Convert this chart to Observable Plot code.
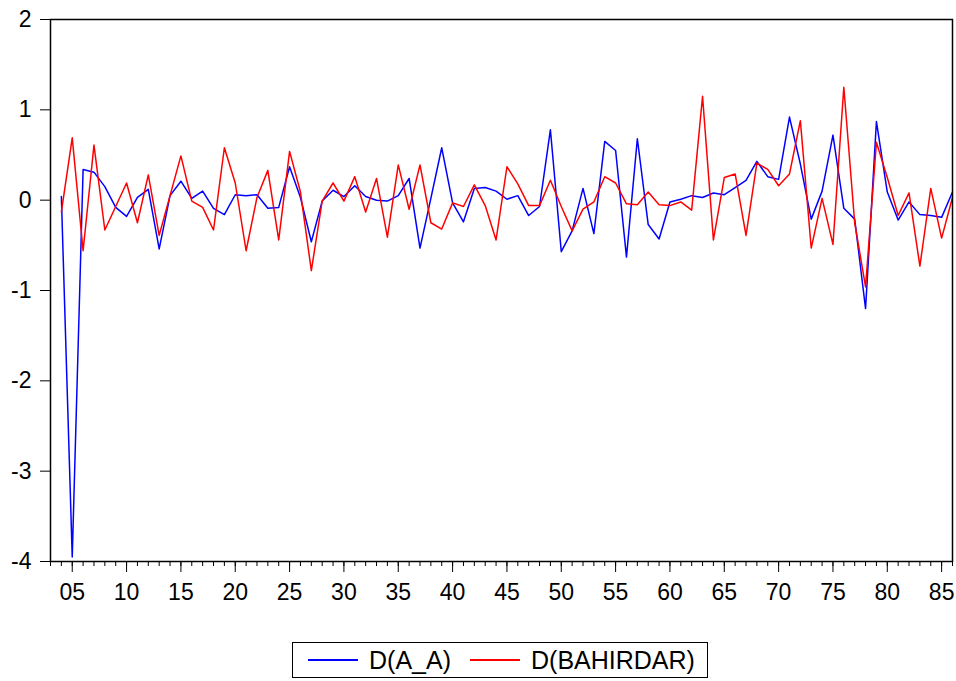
<!DOCTYPE html>
<html>
<head>
<meta charset="utf-8">
<script src="https://cdn.jsdelivr.net/npm/d3@7"></script>
<script src="https://cdn.jsdelivr.net/npm/@observablehq/plot@0.6"></script>
<style>
  body { margin: 0; background: white; font-family: "Liberation Sans", Arial, sans-serif; }
  #wrap { position: relative; width: 956px; height: 681px; }
  #legend { position: absolute; left: 292px; top: 642px; width: 416px; height: 36px; border: 1px solid black; box-sizing: border-box; }
  .item { position: absolute; top: 0; height: 34px; display: flex; align-items: center; font-size: 25px; color: black; white-space: nowrap; }
  .sw { display: inline-block; width: 50px; height: 2px; margin-right: 11px; }
</style>
</head>
<body>
<div id="wrap">
  <div id="chart"></div>
  <div id="legend"></div>
</div>
<script>
const periods = d3.range(4, 87);
const seriesNames = ["D(A_A)", "D(BAHIRDAR)"];
const seriesColors = ["#0000ff", "#ff0000"];
const dAA = [
  0.04, -3.95, 0.34, 0.31, 0.15, -0.08, -0.18, 0.03, 0.12, -0.54,
  0.05, 0.21, 0.02, 0.10, -0.09, -0.16, 0.06, 0.05, 0.06, -0.09,
  -0.08, 0.37, 0.03, -0.46, -0.01, 0.11, 0.04, 0.16, 0.04, 0.00,
  -0.01, 0.05, 0.24, -0.53, 0.02, 0.58, -0.03, -0.24, 0.13, 0.14,
  0.10, 0.01, 0.05, -0.17, -0.07, 0.78, -0.57, -0.34, 0.13, -0.37,
  0.65, 0.55, -0.63, 0.68, -0.27, -0.43, -0.02, 0.01, 0.05, 0.03,
  0.08, 0.06, 0.14, 0.22, 0.43, 0.26, 0.23, 0.92, 0.40, -0.21,
  0.10, 0.72, -0.09, -0.21, -1.20, 0.87, 0.09, -0.22, -0.02, -0.16,
  -0.17, -0.19, 0.09
];
const dBahirdar = [
  -0.13, 0.69, -0.56, 0.61, -0.33, -0.07, 0.19, -0.25, 0.28, -0.39,
  0.05, 0.49, -0.01, -0.08, -0.33, 0.58, 0.19, -0.56, 0.03, 0.33,
  -0.44, 0.54, 0.09, -0.78, -0.01, 0.19, -0.01, 0.26, -0.13, 0.24,
  -0.41, 0.39, -0.10, 0.39, -0.25, -0.32, -0.03, -0.07, 0.17, -0.06,
  -0.44, 0.37, 0.18, -0.06, -0.06, 0.22, -0.07, -0.34, -0.10, -0.02,
  0.26, 0.19, -0.04, -0.05, 0.09, -0.05, -0.06, -0.02, -0.11, 1.15,
  -0.44, 0.25, 0.29, -0.39, 0.41, 0.34, 0.16, 0.29, 0.88, -0.53,
  0.02, -0.49, 1.25, -0.25, -0.96, 0.64, 0.25, -0.17, 0.08, -0.73,
  0.13, -0.42, 0.03
];
const yTicks = [-4, -3, -2, -1, 0, 1, 2];
const xMajorTicks = [5, 10, 15, 20, 25, 30, 35, 40, 45, 50, 55, 60, 65, 70, 75, 80, 85];
const xMinorTicks = d3.range(3, 87);

const rowsA = periods.map((t, i) => ({t, v: dAA[i]}));
const rowsB = periods.map((t, i) => ({t, v: dBahirdar[i]}));

const chart = Plot.plot({
  width: 956,
  height: 625,
  marginLeft: 50,
  marginRight: 4,
  marginTop: 19,
  marginBottom: 64,
  style: {fontFamily: "'Liberation Sans', Arial, sans-serif", fontSize: "23px", background: "white", color: "black", overflow: "visible"},
  x: {domain: [3, 86], label: null},
  y: {domain: [-4, 2], label: null},
  marks: [
    Plot.lineY(rowsA, {x: "t", y: "v", stroke: seriesColors[0], strokeWidth: 1.5}),
    Plot.lineY(rowsB, {x: "t", y: "v", stroke: seriesColors[1], strokeWidth: 1.5}),
    Plot.axisY(yTicks, {tickSize: 10, tickPadding: 9, tickFormat: d => String(d), fontSize: 23, stroke: "black", label: null}),
    Plot.axisX(xMinorTicks, {tickSize: 5, tickFormat: () => "", stroke: "black", label: null}),
    Plot.axisX(xMajorTicks, {tickSize: 11, tickPadding: 11, tickFormat: d => d3.format("02d")(d), fontSize: 23, stroke: "black", label: null}),
    Plot.frame({stroke: "black", strokeWidth: 1.5})
  ]
});
document.getElementById("chart").appendChild(chart);

const legend = document.getElementById("legend");
const lefts = [15, 177];
seriesNames.forEach((name, i) => {
  const item = document.createElement("div");
  item.className = "item";
  item.style.left = lefts[i] + "px";
  const sw = document.createElement("span");
  sw.className = "sw";
  sw.style.background = seriesColors[i];
  item.appendChild(sw);
  item.appendChild(document.createTextNode(name));
  legend.appendChild(item);
});
</script>
</body>
</html>
